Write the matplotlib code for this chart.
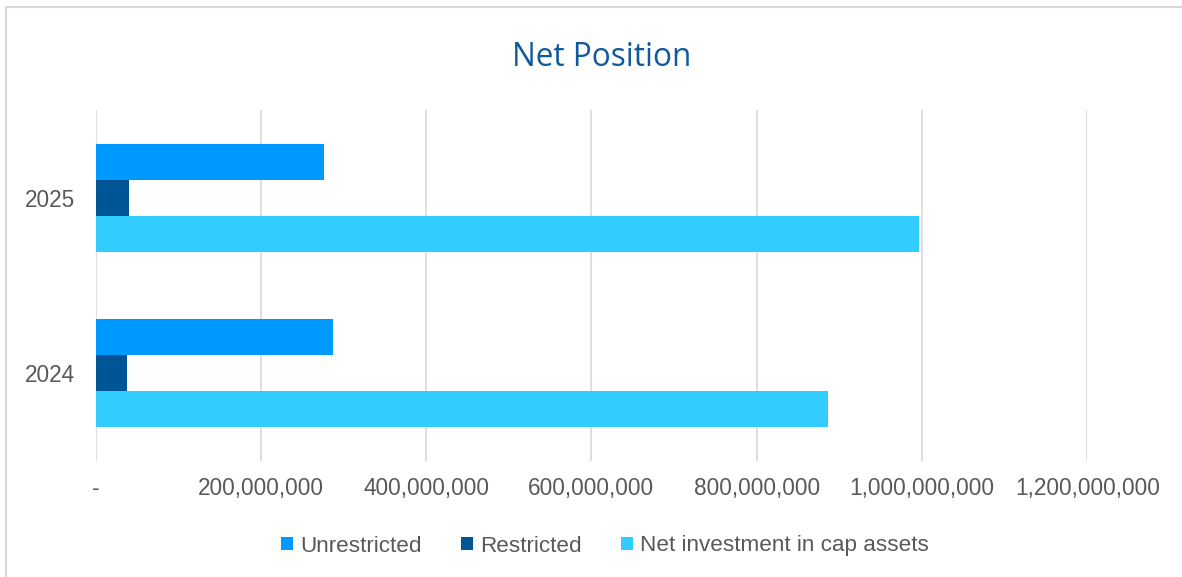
import matplotlib.pyplot as plt
import matplotlib.patches as patches
from matplotlib.ticker import FuncFormatter

# dane
lata = ['2024', '2025']
unrestricted = [287e6, 276e6]
restricted = [38e6, 40e6]
net_investment = [886e6, 996e6]
serie = ['Unrestricted', 'Restricted', 'Net investment in cap assets']
kolory = ['#0099FF', '#005596', '#33CCFF']

szary = '#595959'
plt.rcParams['font.family'] = ['Liberation Sans', 'DejaVu Sans']

fig = plt.figure(figsize=(11.82, 5.77), dpi=100)
ax = fig.add_axes([95.5 / 1182, 116.5 / 577, (1087.3 - 95.5) / 1182, 350.5 / 577])

h = 0.2054
y = list(range(len(lata)))
ax.barh([i + h for i in y], unrestricted, height=h, color=kolory[0], label=serie[0], zorder=3)
ax.barh(y, restricted, height=h, color=kolory[1], label=serie[1], zorder=3)
ax.barh([i - h for i in y], net_investment, height=h, color=kolory[2], label=serie[2], zorder=3)

ax.set_xlim(0, 1.2e9)
ax.set_ylim(-0.5, 1.5)
ax.set_xticks([i * 2e8 for i in range(7)])
ax.xaxis.set_major_formatter(FuncFormatter(lambda v, p: '-' if v == 0 else '{:,.0f}'.format(v)))
ax.set_yticks(y)
ax.set_yticklabels(lata)
ax.tick_params(axis='x', length=0, pad=12, labelsize=16.3, labelcolor=szary)
ax.tick_params(axis='y', length=0, pad=14.5, labelsize=16.3, labelcolor=szary)
ax.grid(axis='x', color='#D9D9D9', linewidth=1.2, zorder=0)
for s in ax.spines.values():
    s.set_visible(False)

fig.text(601.5 / 1182, 1 - 57 / 577, 'Net Position', ha='center', va='center',
         fontsize=22.7, color='#0E5A9C', family=['Open Sans', 'DejaVu Sans'])

fig.legend(loc='center', bbox_to_anchor=(605 / 1182, 1 - 546 / 577), ncol=3, frameon=False,
           fontsize=16.2, labelcolor=szary, handlelength=0.55, handleheight=0.55,
           handletextpad=0.3, columnspacing=1.75)

# ramka wykresu
fig.patches.append(patches.Rectangle((6 / 1182, -0.05), 1.1, 1 - 6.7 / 577 + 0.05,
                                     transform=fig.transFigure, fill=False,
                                     edgecolor='#D9D9D9', linewidth=1.5))

fig.savefig('out.png', dpi=100)
